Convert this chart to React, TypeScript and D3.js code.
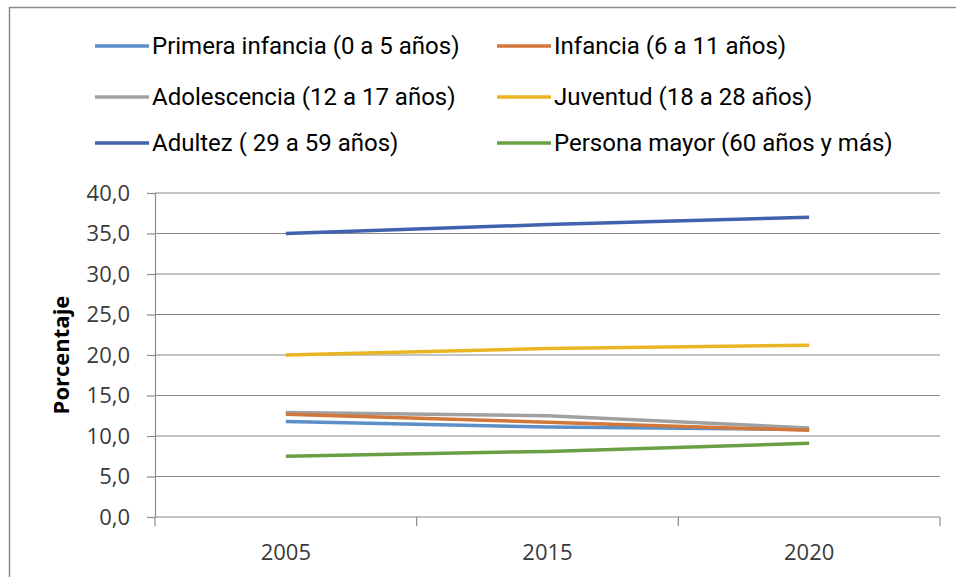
import React, { useRef, useEffect } from "react";
import * as d3 from "d3";

const years = ["2005", "2015", "2020"];
const yTicks = [0, 5, 10, 15, 20, 25, 30, 35, 40];

const seriesNames = [
  "Primera infancia (0 a 5 años)",
  "Infancia (6 a 11 años)",
  "Adolescencia (12 a 17 años)",
  "Juventud (18 a 28 años)",
  "Adultez ( 29 a 59 años)",
  "Persona mayor (60 años y más)",
];
const primeraInfancia = [11.8, 11.1, 10.8];
const infancia = [12.7, 11.7, 10.7];
const adolescencia = [12.9, 12.5, 11.0];
const juventud = [20.0, 20.8, 21.2];
const adultez = [35.0, 36.1, 37.0];
const personaMayor = [7.5, 8.1, 9.1];

const colors = ["#5B8FC7", "#D2773A", "#A0A0A0", "#E9B522", "#4163AE", "#6AA044"];

const App = () => {
  const ref = useRef<SVGSVGElement>(null);

  useEffect(() => {
    const width = 956;
    const height = 577;
    const margin = { top: 193, right: 16, bottom: 60, left: 155 };

    const svg = d3.select(ref.current).attr("width", width).attr("height", height);
    svg.selectAll("*").remove();

    // chart frame (only top/left edges visible in the crop)
    svg
      .append("rect")
      .attr("x", 9.5)
      .attr("y", 7.5)
      .attr("width", width + 20)
      .attr("height", height + 20)
      .attr("fill", "white")
      .attr("stroke", "#8c8c8c")
      .attr("stroke-width", 1.5);

    const x = d3
      .scaleBand()
      .domain(years)
      .range([margin.left, width - margin.right]);

    const y = d3
      .scaleLinear()
      .domain([0, 40])
      .range([height - margin.bottom, margin.top]);

    const numFont = "'Open Sans', sans-serif";

    // horizontal gridlines
    svg
      .append("g")
      .selectAll("line")
      .data(yTicks.slice(1))
      .enter()
      .append("line")
      .attr("x1", margin.left)
      .attr("x2", width - margin.right)
      .attr("y1", (d) => y(d))
      .attr("y2", (d) => y(d))
      .attr("stroke", "#8a8a8a")
      .attr("stroke-width", 1.2);

    // y axis
    const yAxis = svg
      .append("g")
      .attr("transform", `translate(${margin.left},0)`)
      .call(
        d3
          .axisLeft(y)
          .tickValues(yTicks)
          .tickSize(8)
          .tickPadding(17)
          .tickFormat((d) => d3.format(".1f")(d as number).replace(".", ","))
      );
    yAxis.select(".domain").attr("stroke", "#8a8a8a").attr("stroke-width", 1.2);
    yAxis.selectAll(".tick line").attr("stroke", "#8a8a8a").attr("stroke-width", 1.2);
    yAxis
      .selectAll(".tick text")
      .attr("fill", "#3a3a3a")
      .style("font-family", numFont)
      .style("font-size", "22px");

    // x axis
    const boundaries = [...years.map((d) => x(d) as number), width - margin.right];
    const xAxis = svg.append("g");
    xAxis
      .append("line")
      .attr("x1", margin.left)
      .attr("x2", width - margin.right)
      .attr("y1", y(0))
      .attr("y2", y(0))
      .attr("stroke", "#8a8a8a")
      .attr("stroke-width", 1.2);
    xAxis
      .selectAll(".xtick")
      .data(boundaries)
      .enter()
      .append("line")
      .attr("x1", (d) => d)
      .attr("x2", (d) => d)
      .attr("y1", y(0))
      .attr("y2", y(0) + 9)
      .attr("stroke", "#8a8a8a")
      .attr("stroke-width", 1.2);
    xAxis
      .selectAll("text")
      .data(years)
      .enter()
      .append("text")
      .attr("x", (d) => (x(d) as number) + x.bandwidth() / 2)
      .attr("y", y(0) + 43)
      .attr("text-anchor", "middle")
      .attr("fill", "#3a3a3a")
      .style("font-family", numFont)
      .style("font-size", "22px")
      .text((d) => d);

    // y title
    svg
      .append("text")
      .attr("transform", `translate(69, ${(y(0) + y(40)) / 2}) rotate(-90)`)
      .attr("text-anchor", "middle")
      .attr("fill", "#000")
      .style("font-family", numFont)
      .style("font-weight", "bold")
      .style("font-size", "22px")
      .text("Porcentaje");

    // lines
    const series = [primeraInfancia, infancia, adolescencia, juventud, adultez, personaMayor];
    const line = d3
      .line<number>()
      .x((_, i) => (x(years[i]) as number) + x.bandwidth() / 2)
      .y((d) => y(d));

    const drawOrder = [5, 4, 3, 0, 2, 1];
    svg
      .append("g")
      .selectAll("path")
      .data(drawOrder)
      .enter()
      .append("path")
      .attr("d", (i) => line(series[i]))
      .attr("fill", "none")
      .attr("stroke", (i) => colors[i])
      .attr("stroke-width", 3.5);

    // legend
    const legendG = svg
      .selectAll(".legend")
      .data(seriesNames)
      .enter()
      .append("g")
      .attr("class", "legend")
      .attr("transform", (d, i) => `translate(${i % 2 === 0 ? 95 : 497}, ${[46, 97, 143][Math.floor(i / 2)]})`);

    legendG
      .append("line")
      .attr("x1", 0)
      .attr("x2", 54)
      .attr("stroke", (d, i) => colors[i])
      .attr("stroke-width", 3.5);

    legendG
      .append("text")
      .text((d) => d)
      .attr("x", 57)
      .attr("dy", "0.35em")
      .attr("fill", "#000")
      .style("font-family", "'Roboto', sans-serif")
      .style("font-size", "24px");
  }, []);

  return <svg ref={ref} style={{ position: "absolute", left: 0, top: 0 }}></svg>;
};

export default App;
